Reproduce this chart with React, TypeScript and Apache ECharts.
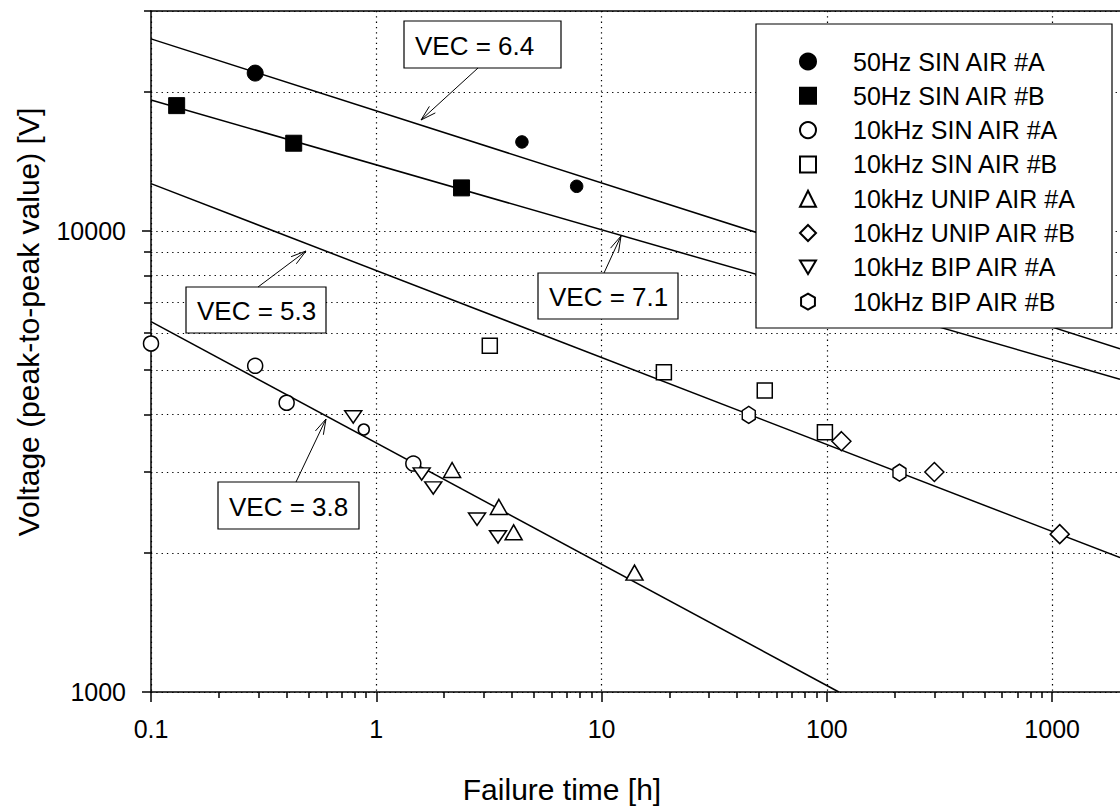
import React, { useEffect, useRef } from 'react';
import * as echarts from 'echarts';

// Measured failure times [h] and peak-to-peak voltages [V]
const sin50A = [[0.29, 22000], [4.43, 15600], [7.75, 12500]];
const sin50B = [[0.13, 18700], [0.43, 15500], [2.39, 12400]];
const sin10kA = [[0.1, 5700], [0.29, 5100], [0.4, 4240], [0.88, 3710], [1.46, 3130]];
const sin10kB = [[3.19, 5640], [18.9, 4940], [53, 4510], [98, 3660]];
const unip10kA = [[2.17, 3030], [3.5, 2520], [4.07, 2220], [14.0, 1815]];
const unip10kB = [[116, 3500], [300, 3000], [1080, 2200]];
const bip10kA = [[0.79, 3950], [1.59, 2970], [1.79, 2770], [2.8, 2370], [3.47, 2170]];
const bip10kB = [[45, 3990], [210, 2990]];

// Inverse power-law lifetime lines (end points), V ~ t^(-1/VEC)
const fitVec64 = [[0.1, 26100], [2000, 5555]];
const fitVec71 = [[0.1, 19240], [2000, 4770]];
const fitVec53 = [[0.1, 12670], [2000, 1956]];
const fitVec38 = [[0.1, 6360], [113, 1000]];

// Axis ticks
const xMajor = [0.1, 1, 10, 100, 1000];
const xMinor = [0.2, 0.3, 0.4, 0.5, 0.6, 0.7, 0.8, 0.9, 2, 3, 4, 5, 6, 7, 8, 9,
  20, 30, 40, 50, 60, 70, 80, 90, 200, 300, 400, 500, 600, 700, 800, 900];
const yMajor = [1000, 10000];
const yMinor = [2000, 3000, 4000, 5000, 6000, 7000, 8000, 9000, 20000, 30000];

const X_MIN = 0.1;
const X_MAX = 2000;
const Y_MIN = 1000;
const Y_MAX = 30000;

const FONT = '"Liberation Sans", Arial, Helvetica, sans-serif';
const BLACK = '#000';

const dotted = { color: BLACK, width: 1.2, type: [1.3, 4] as number[] };
const solid = { color: BLACK, width: 1.5 };

const near = (list: number[]) => (v: number) =>
  list.some((m) => Math.abs(v - m) / m < 1e-6);
const isXMajor = near(xMajor);
const isYMajor = near(yMajor);

function textStyle(text: string, size: number, align = 'left', vAlign = 'middle') {
  return {
    text,
    fill: BLACK,
    fontSize: size,
    fontFamily: FONT,
    align,
    verticalAlign: vAlign,
    textAlign: align,
    textVerticalAlign: vAlign,
  };
}

function vecBox(x: number, y: number, w: number, h: number, label: string) {
  return [
    {
      type: 'rect',
      z: 5,
      shape: { x, y, width: w, height: h },
      style: { fill: '#fff', stroke: BLACK, lineWidth: 1.2 },
    },
    {
      type: 'text',
      z: 6,
      x: x + 11,
      y: y + h / 2 + 1,
      style: textStyle(label, 26),
    },
  ];
}

function arrow(tail: number[], tip: number[]) {
  const dx = tail[0] - tip[0];
  const dy = tail[1] - tip[1];
  const len = Math.hypot(dx, dy);
  const ux = dx / len;
  const uy = dy / len;
  const a = (16 * Math.PI) / 180;
  const L = 16;
  const side = (s: number) => [
    tip[0] + L * (ux * Math.cos(a) - uy * s * Math.sin(a)),
    tip[1] + L * (ux * s * Math.sin(a) + uy * Math.cos(a)),
  ];
  return [
    {
      type: 'line',
      z: 5,
      shape: { x1: tail[0], y1: tail[1], x2: tip[0], y2: tip[1] },
      style: { stroke: BLACK, lineWidth: 1 },
    },
    {
      type: 'polyline',
      z: 5,
      shape: { points: [side(1), tip, side(-1)] },
      style: { stroke: BLACK, lineWidth: 1, fill: null },
    },
  ];
}

const hexagon = 'path://M0,-1L0.866,-0.5L0.866,0.5L0,1L-0.866,0.5L-0.866,-0.5Z';
const downTriangle = 'path://M-1,-0.85L1,-0.85L0,0.85Z';

const openStyle = { color: '#fff', borderColor: BLACK, borderWidth: 1.5, opacity: 1 };
const filledStyle = { color: BLACK, borderColor: BLACK, borderWidth: 1, opacity: 1 };

function fitLine(data: number[][]) {
  return {
    type: 'line',
    data,
    symbol: 'none',
    silent: true,
    z: 2,
    lineStyle: { color: BLACK, width: 1.5 },
  };
}

function scatter(name: string, data: number[][], symbol: string, symbolSize: any, filled = false) {
  return {
    type: 'scatter',
    name,
    data,
    symbol,
    symbolSize,
    symbolKeepAspect: true,
    z: 3,
    itemStyle: filled ? filledStyle : openStyle,
    emphasis: { disabled: true },
  };
}

const names = [
  '50Hz SIN AIR #A',
  '50Hz SIN AIR #B',
  '10kHz SIN AIR #A',
  '10kHz SIN AIR #B',
  '10kHz UNIP AIR #A',
  '10kHz UNIP AIR #B',
  '10kHz BIP AIR #A',
  '10kHz BIP AIR #B',
];

const option: any = {
  animation: false,
  backgroundColor: '#fff',
  textStyle: { fontFamily: FONT },
  grid: { left: 151, top: 11, width: 973, height: 681, containLabel: false },
  xAxis: [
    {
      type: 'log',
      logBase: 10,
      min: X_MIN,
      max: X_MAX,
      position: 'bottom',
      axisLine: { show: true, onZero: false, lineStyle: solid },
      axisTick: { show: true, inside: false, length: 10, customValues: xMajor, lineStyle: solid },
      axisLabel: {
        show: true,
        customValues: xMajor,
        margin: 24,
        color: BLACK,
        fontSize: 25,
        fontFamily: FONT,
        formatter: (v: number) => (isXMajor(v) ? String(v) : ''),
      },
      splitLine: { show: true, lineStyle: dotted },
    },
    {
      type: 'log',
      logBase: 10,
      min: X_MIN,
      max: X_MAX,
      position: 'bottom',
      axisLine: { show: false, onZero: false },
      axisTick: { show: true, inside: false, length: 6, customValues: xMinor, lineStyle: solid },
      axisLabel: { show: false },
      splitLine: { show: false },
    },
    {
      type: 'log',
      logBase: 10,
      min: X_MIN,
      max: X_MAX,
      position: 'top',
      axisLine: { show: true, onZero: false, lineStyle: solid },
      axisTick: { show: false },
      axisLabel: { show: false },
      splitLine: { show: false },
    },
  ],
  yAxis: [
    {
      type: 'log',
      logBase: 10,
      min: Y_MIN,
      max: Y_MAX,
      position: 'left',
      axisLine: { show: true, onZero: false, lineStyle: solid },
      axisTick: { show: true, inside: false, length: 9, customValues: yMajor, lineStyle: solid },
      axisLabel: {
        show: true,
        customValues: yMajor,
        margin: 25,
        color: BLACK,
        fontSize: 25,
        fontFamily: FONT,
        formatter: (v: number) => (isYMajor(v) ? String(v) : ''),
      },
      splitLine: { show: true, lineStyle: dotted },
    },
    {
      type: 'log',
      logBase: 10,
      min: Y_MIN,
      max: Y_MAX,
      position: 'left',
      axisLine: { show: false, onZero: false },
      axisTick: { show: true, inside: false, length: 7, customValues: yMinor, lineStyle: solid },
      axisLabel: { show: false },
      splitLine: { show: true, lineStyle: dotted },
    },
  ],
  legend: {
    show: true,
    orient: 'vertical',
    left: 799,
    top: 49,
    padding: 0,
    itemWidth: 16,
    itemHeight: 16,
    itemGap: 9.3,
    symbolKeepAspect: true,
    selectedMode: false,
    z: 6,
    data: names,
    itemStyle: { opacity: 1 },
    textStyle: {
      color: BLACK,
      fontSize: 25,
      lineHeight: 24,
      fontFamily: FONT,
      padding: [0, 0, 0, 32],
    },
  },
  series: [
    fitLine(fitVec64),
    fitLine(fitVec71),
    fitLine(fitVec53),
    fitLine(fitVec38),
    scatter(names[0], sin50A, 'circle', (_v: any, p: any) => (p.dataIndex === 0 ? 16 : 12.5), true),
    scatter(names[1], sin50B, 'rect', 16, true),
    scatter(names[2], sin10kA, 'circle', (_v: any, p: any) => (p.dataIndex === 3 ? 11 : 15)),
    scatter(names[3], sin10kB, 'rect', 15),
    scatter(names[4], unip10kA, 'triangle', [17, 15]),
    scatter(names[5], unip10kB, 'diamond', 19),
    scatter(names[6], bip10kA, downTriangle, [17, 14.5]),
    scatter(names[7], bip10kB, hexagon, [15, 17]),
  ],
  graphic: {
    elements: [
      // legend frame
      {
        type: 'rect',
        z: 5,
        shape: { x: 756, y: 24, width: 356, height: 304 },
        style: { fill: '#fff', stroke: BLACK, lineWidth: 1.2 },
      },
      ...vecBox(404, 21, 157, 47, 'VEC = 6.4'),
      ...arrow([478, 68], [421, 120]),
      ...vecBox(538, 273, 140, 46, 'VEC = 7.1'),
      ...arrow([604, 273], [621, 236]),
      ...vecBox(186, 287, 140, 46, 'VEC = 5.3'),
      ...arrow([258, 287], [306, 251]),
      ...vecBox(218, 482, 141, 47, 'VEC = 3.8'),
      ...arrow([296, 482], [326, 419]),
      {
        type: 'text',
        z: 6,
        x: 562,
        y: 789,
        style: textStyle('Failure time [h]', 30, 'center', 'middle'),
      },
      {
        type: 'text',
        z: 6,
        x: 28,
        y: 322,
        rotation: Math.PI / 2,
        style: textStyle('Voltage (peak-to-peak value) [V]', 30, 'center', 'middle'),
      },
    ],
  },
};

export default function App() {
  const ref = useRef<HTMLDivElement>(null);
  useEffect(() => {
    if (!ref.current) return;
    const chart = echarts.init(ref.current, null, { renderer: 'svg' });
    chart.setOption(option);
    return () => chart.dispose();
  }, []);
  return (
    <div
      ref={ref}
      style={{ position: 'absolute', left: 0, top: 0, width: 1120, height: 808, background: '#fff' }}
    />
  );
}
